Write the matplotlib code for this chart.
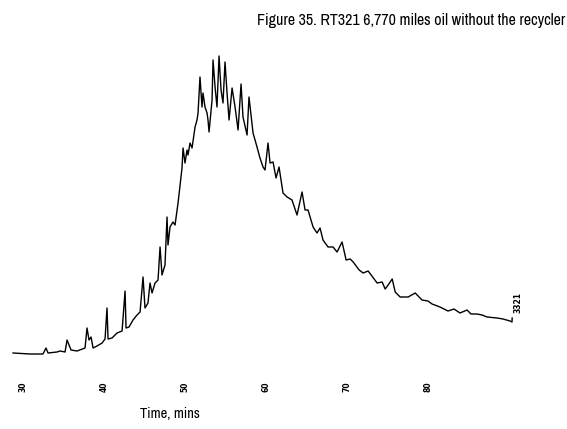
import matplotlib
matplotlib.use("Agg")
import matplotlib.pyplot as plt
from matplotlib import font_manager

# Chromatogram trace (time in minutes, detector response in arbitrary units)
tiempo = [28.73, 30.83, 32.43, 32.80, 33.05, 34.16, 34.53, 35.15, 35.40, 35.64,
          35.89, 36.63, 37.62, 37.86, 38.11, 38.36, 38.61, 39.10, 39.72, 40.09,
          40.33, 40.46, 40.95, 41.57, 42.19, 42.56, 42.68, 43.05, 43.54, 44.04,
          44.41, 44.78, 45.02, 45.39, 45.64, 45.89, 46.26, 46.63, 46.88, 47.12,
          47.49, 47.74, 47.86, 48.11, 48.48, 48.73, 49.10, 49.35, 49.59, 49.72,
          49.96, 50.21, 50.33, 50.58, 50.83, 51.20, 51.44, 51.57, 51.81, 52.06,
          52.18, 52.43, 52.68, 52.80, 52.93, 53.30, 53.42, 53.67, 53.91, 54.16,
          54.41, 54.65, 54.90, 55.15, 55.40, 55.77, 56.14, 56.51, 56.88, 57.12,
          57.62, 57.86, 58.36, 58.85, 59.22, 59.59, 59.84, 60.21, 60.46, 60.83,
          61.20, 61.57, 62.06, 62.56, 63.17, 63.79, 64.41, 64.78, 65.15, 65.77,
          66.26, 66.63, 67.00, 67.62, 68.24, 68.73, 69.35, 69.85, 70.35, 70.72,
          71.46, 71.95, 72.57, 73.68, 74.30, 74.67, 75.04, 75.54, 75.91, 76.52,
          77.51, 78.38, 79.22, 79.96, 80.46, 81.44, 82.43, 83.17, 83.91, 84.78,
          85.27, 86.01, 86.63, 87.25, 88.48, 89.22, 90.09, 90.33, 90.35]

respuesta = [0, -1, -1, 5, 0, 1, 2, 1, 13, 8,
             3, 2, 5, 25, 13, 16, 5, 7, 10, 14,
             45, 14, 15, 20, 22, 62, 25, 26, 33, 38,
             41, 76, 45, 50, 70, 60, 70, 73, 106, 78,
             88, 136, 108, 126, 131, 128, 150, 168, 185, 205,
             190, 203, 198, 210, 205, 226, 233, 240, 276, 246,
             260, 246, 240, 233, 221, 253, 293, 266, 246, 297,
             263, 250, 291, 260, 233, 265, 246, 223, 269, 236,
             218, 256, 220, 206, 195, 186, 183, 210, 190, 191,
             175, 186, 160, 156, 153, 138, 161, 143, 143, 126,
             120, 125, 113, 106, 106, 101, 111, 93, 94, 91,
             83, 80, 82, 70, 71, 64, 68, 74, 61, 56,
             56, 60, 53, 52, 49, 46, 42, 44, 40, 43,
             39, 39, 38, 36, 35, 34, 32, 31, 35]

ticks = [30, 40, 50, 60, 70, 80]
etiqueta_fin = "3321"

# buscar una fuente estrecha (tipo Arial Narrow); si no hay, Liberation Sans mas pequena
fuente = {'family': 'Liberation Sans', 'stretch': 'normal'}
escala = 0.78
for f in font_manager.fontManager.ttflist:
    if 'Narrow' in f.name:
        fuente = {'family': f.name, 'stretch': 'normal'}
        escala = 0.92
        break

fig = plt.figure(figsize=(5.67, 4.29), dpi=100)
ax = fig.add_axes([0.0, 64 / 429, 1.0, 325 / 429])

ax.plot(tiempo, respuesta, color='black', linewidth=1.0)
ax.text(tiempo[-1] + 0.2, respuesta[-1] + 5, etiqueta_fin, rotation=90,
        fontsize=5.5, ha='left', va='bottom', fontweight='bold')

ax.set_xlim(27.12, 97.12)
ax.set_ylim(-12, 313)
ax.set_xticks(ticks)
ax.set_xticklabels([str(t) for t in ticks], rotation=90, fontsize=5.5, fontweight='bold')
ax.tick_params(axis='x', length=0, pad=12)
ax.set_yticks([])
for s in ax.spines.values():
    s.set_visible(False)

fig.text(170 / 567, 1 - 414 / 429, 'Time, mins', ha='center', va='center',
         fontsize=11.4 * escala, **fuente)
fig.text(565 / 567, 1 - 20 / 429, 'Figure 35. RT321 6,770 miles oil without the recycler',
         ha='right', va='center', fontsize=12.5 * escala, **fuente)

fig.savefig('out.png', dpi=100)
